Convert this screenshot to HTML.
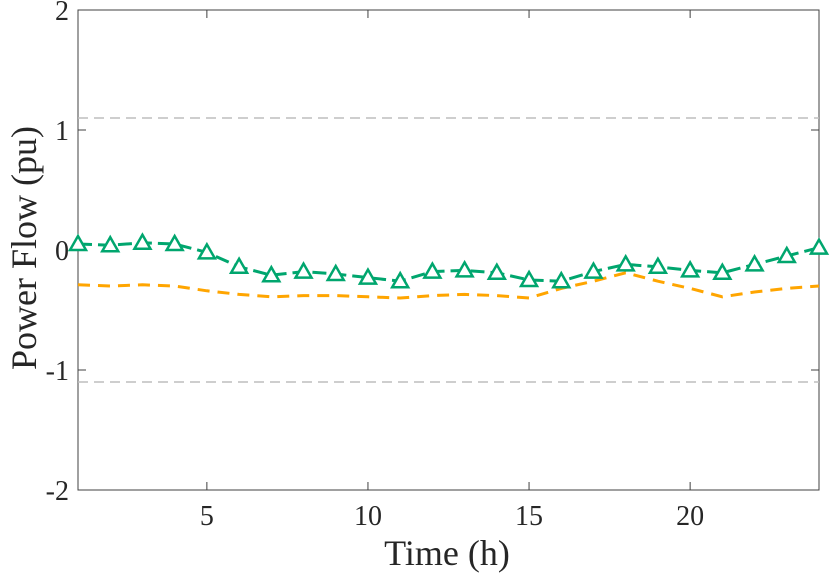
<!DOCTYPE html>
<html><head><meta charset="utf-8"><style>
body{margin:0;background:#fff}
svg{display:block;font-family:"Liberation Serif",serif}
</style></head><body>
<svg id="c" width="830" height="575">
<rect x="78" y="10" width="741" height="480" fill="#fff" stroke="#404040" stroke-width="1"/>
<g id="g"></g>
<text x="447" y="565" font-size="36" text-anchor="middle" fill="#262626">Time (h)</text>
<text transform="translate(36,248) rotate(-90)" font-size="36" text-anchor="middle" fill="#262626">Power Flow (pu)</text>
</svg>
<script>
const hours=[1,2,3,4,5,6,7,8,9,10,11,12,13,14,15,16,17,18,19,20,21,22,23,24];
const flowGreen=[0.05,0.04,0.06,0.05,-0.02,-0.14,-0.21,-0.18,-0.20,-0.23,-0.26,-0.18,-0.17,-0.19,-0.25,-0.26,-0.18,-0.12,-0.14,-0.17,-0.19,-0.12,-0.05,0.02];
const flowOrange=[-0.29,-0.30,-0.29,-0.30,-0.34,-0.37,-0.39,-0.38,-0.38,-0.39,-0.40,-0.38,-0.37,-0.38,-0.40,-0.32,-0.26,-0.19,-0.26,-0.32,-0.39,-0.35,-0.32,-0.30];
const limits=[1.1,-1.1];
const xTicks=[5,10,15,20];
const yTicks=[2,1,0,-1,-2];
const X=v=>78+(v-1)*(741/23);
const Y=v=>250-v*120;
const g=document.getElementById('g');
const NS='http://www.w3.org/2000/svg';
function mk(t,a){const e=document.createElementNS(NS,t);for(const k in a)e.setAttribute(k,a[k]);g.appendChild(e);return e;}
for(const t of xTicks){
 const l=mk('line',{x1:X(t),x2:X(t),y1:490,y2:482,stroke:'#404040'});
 
 
 const l2=mk('line',{x1:X(t),x2:X(t),y1:10,y2:18,stroke:'#404040'});
 
 
 const s=mk('text',{x:X(t),y:525,'font-size':28,'text-anchor':'middle',fill:'#262626'});s.textContent=t;
 
 
}
for(const t of yTicks){
 const l=mk('line',{x1:78,x2:86,y1:Y(t),y2:Y(t),stroke:'#404040'});
 
 
 const l2=mk('line',{x1:811,x2:819,y1:Y(t),y2:Y(t),stroke:'#404040'});
 
 
 const s=mk('text',{x:69,y:Y(t)+10,'font-size':28,'text-anchor':'end',fill:'#262626'});s.textContent=t;
 
 
}
for(const v of limits){
 const l=mk('line',{x1:78,x2:819,y1:Y(v),y2:Y(v),stroke:'#bdbdbd','stroke-width':1.5,'stroke-dasharray':'10,6'});
 
 
}
const po=mk('polyline',{points:hours.map((h,i)=>X(h)+','+Y(flowOrange[i])).join(' '),fill:'none',stroke:'#ffa500','stroke-width':3,'stroke-dasharray':'12,8'});


const pg=mk('polyline',{points:hours.map((h,i)=>X(h)+','+Y(flowGreen[i])).join(' '),fill:'none',stroke:'#00a66e','stroke-width':3,'stroke-dasharray':'14,6'});


hours.forEach((h,i)=>{
 const x=X(h),y=Y(flowGreen[i]);
 const m=mk('polygon',{points:`${x},${y-8} ${x-8},${y+6} ${x+8},${y+6}`,fill:'#fff',stroke:'#00a66e','stroke-width':2.5});
 
 
});
</script>
</body></html>
